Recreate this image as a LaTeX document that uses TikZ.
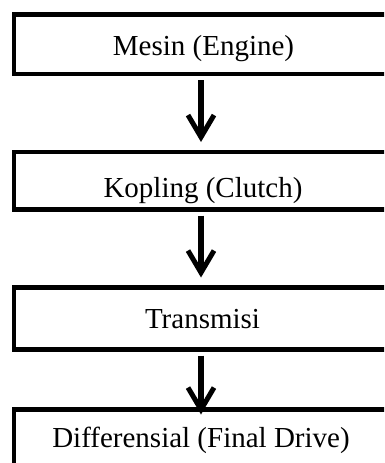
\documentclass[tikz,border=0pt]{standalone}
\usepackage{fontspec}
\setmainfont{Liberation Serif}
\usetikzlibrary{arrows.meta}
\begin{document}
\begin{tikzpicture}[x=1pt,y=-1pt,
  stagebox/.style={draw=black,line width=4.5pt,minimum width=378pt,inner sep=0pt,outer sep=0pt,anchor=center},
  stagetext/.style={font=\fontsize{29}{32}\selectfont,anchor=base,inner sep=0pt},
  flowarrow/.style={draw=black,line width=6pt,-{Straight Barb[length=22pt,width=26pt,line width=5pt]}}]
\useasboundingbox (0,0) rectangle (384,463);
\clip (0,0) rectangle (384,463);
\fill[white] (0,0) rectangle (384,463);
\node[stagebox,minimum height=59.5pt] (b1) at (203,44.25) {};
\node[stagebox,minimum height=57.5pt] (b2) at (203,180.75) {};
\node[stagebox,minimum height=62pt] (b3) at (203,318.5) {};
\node[stagebox,minimum height=70pt] (b4) at (203,444.5) {};
\node[stagetext] (t1) at (203.5,55) {Mesin (Engine)};
\node[stagetext] (t2) at (203,197) {Kopling (Clutch)};
\node[stagetext] (t3) at (202.5,328) {Transmisi};
\node[stagetext] (t4) at (201,447) {Differensial (Final Drive)};
\draw[flowarrow] ([xshift=-2pt,yshift=-6pt]b1.south) -- ([xshift=-2pt,yshift=10pt]b2.north);
\draw[flowarrow] ([xshift=-2pt,yshift=-6pt]b2.south) -- ([xshift=-2pt,yshift=10pt]b3.north);
\draw[flowarrow] ([xshift=-2pt,yshift=-6pt]b3.south) -- ([xshift=-2pt,yshift=-5pt]b4.north);
\end{tikzpicture}
\end{document}
